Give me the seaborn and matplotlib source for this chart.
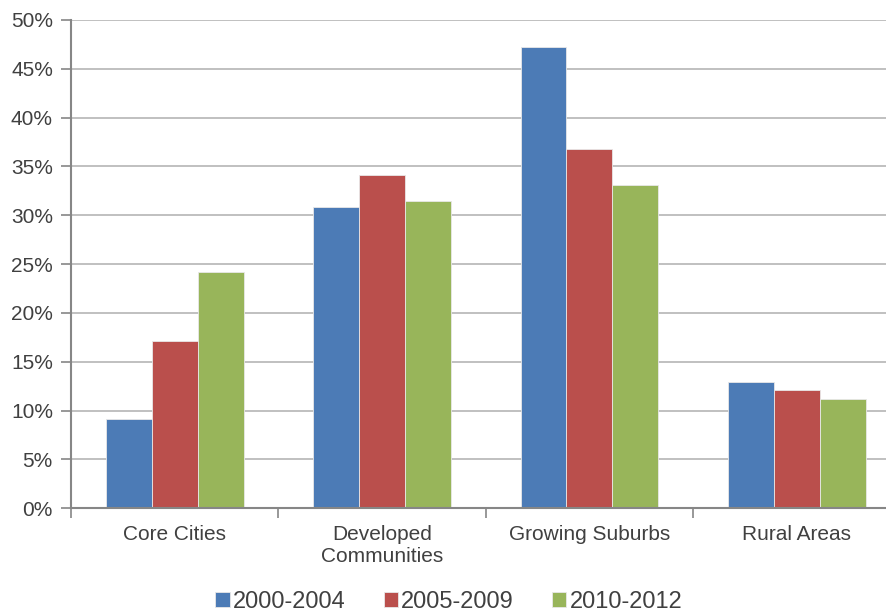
import matplotlib
matplotlib.use("Agg")
import matplotlib.pyplot as plt
from matplotlib.ticker import FixedLocator, PercentFormatter
import seaborn as sns
import pandas as pd

# Share of growth by community type and period (%)
categories = ["Core Cities", "Developed\nCommunities", "Growing Suburbs", "Rural Areas"]
periods = ["2000-2004", "2005-2009", "2010-2012"]
share_2000_2004 = [9.1, 30.8, 47.2, 12.9]
share_2005_2009 = [17.1, 34.1, 36.8, 12.1]
share_2010_2012 = [24.2, 31.5, 33.1, 11.2]
colors = ["#4C7BB6", "#BA4F4C", "#98B55A"]

rows = []
for period, values in zip(periods, [share_2000_2004, share_2005_2009, share_2010_2012]):
    for cat, v in zip(categories, values):
        rows.append({"category": cat, "period": period, "share": v})
df = pd.DataFrame(rows)

sns.set_theme(style="white")
plt.rcParams["font.family"] = ["Liberation Sans", "DejaVu Sans"]
text_color = "#404040"

fig = plt.figure(figsize=(8.87, 6.13), dpi=100)
ax = fig.add_axes([0.0800, 0.1708, 0.9353, 0.7966])

sns.barplot(data=df, x="category", y="share", hue="period", order=categories,
            hue_order=periods, palette=colors, width=0.665, saturation=1,
            edgecolor="#E8E8E8", linewidth=0.6, ax=ax, legend=True)

ax.set_ylim(0, 50)
ax.set_xlim(-0.5, 3.5)
ax.set_yticks(range(0, 51, 5))
ax.yaxis.set_major_formatter(PercentFormatter(decimals=0))
ax.yaxis.grid(True, color="#C0C0C0", linewidth=1.4)
ax.set_axisbelow(True)

for side in ["top", "right"]:
    ax.spines[side].set_visible(False)
for side in ["left", "bottom"]:
    ax.spines[side].set_color("#868686")
    ax.spines[side].set_linewidth(1.5)

ax.tick_params(axis="y", which="major", length=7, width=1.2, color="#868686",
               labelsize=15, labelcolor=text_color, pad=6, left=True)
ax.tick_params(axis="x", which="major", length=0, labelsize=15,
               labelcolor=text_color, pad=12)
ax.xaxis.set_minor_locator(FixedLocator([-0.5, 0.5, 1.5, 2.5, 3.5]))
ax.tick_params(axis="x", which="minor", length=7, width=1.2, color="#868686",
               bottom=True)
ax.set_xlabel("")
ax.set_ylabel("")

handles, labels = ax.get_legend_handles_labels()
ax.get_legend().remove()
leg = fig.legend(handles, labels, loc="center", bbox_to_anchor=(0.506, 0.018),
                 ncol=3, frameon=False, fontsize=17, handlelength=0.6,
                 handleheight=0.6, handletextpad=0.15, columnspacing=1.6,
                 borderaxespad=0)
for t in leg.get_texts():
    t.set_color(text_color)

fig.savefig("out.png", dpi=100)
